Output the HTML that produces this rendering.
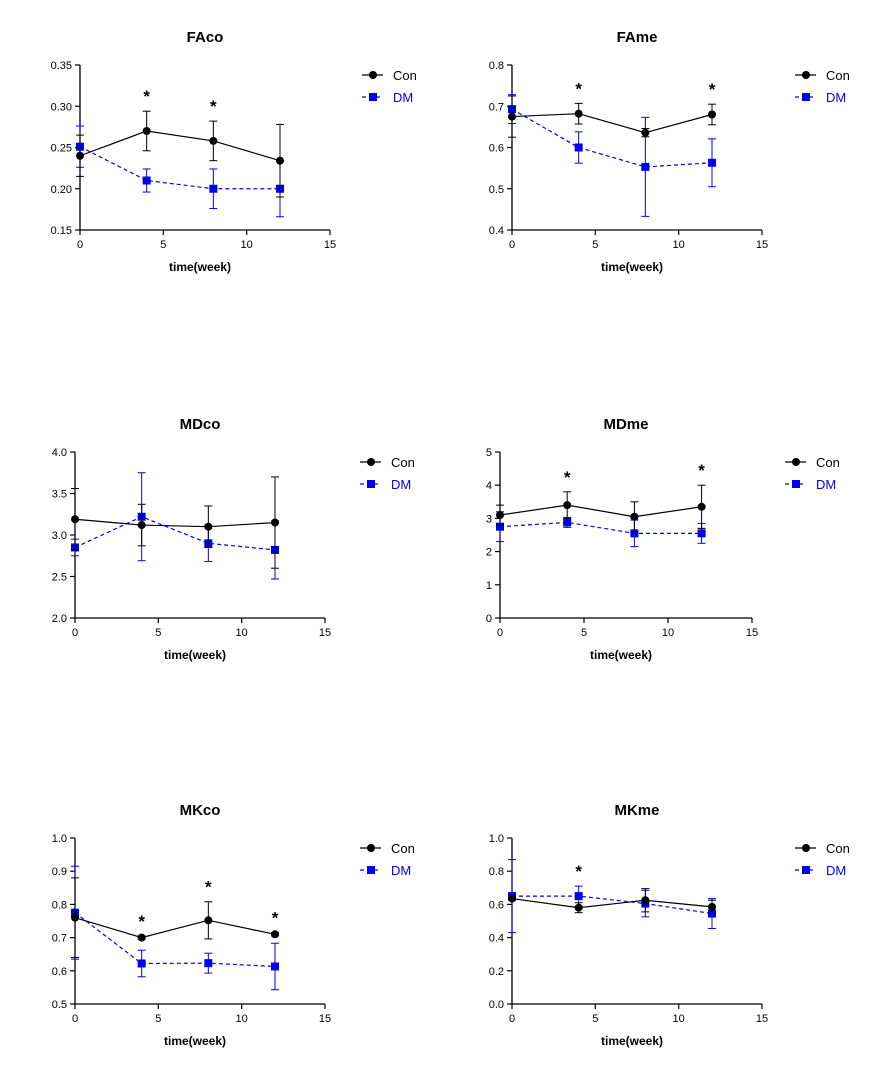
<!DOCTYPE html>
<html><head><meta charset="utf-8">
<style>
body{margin:0;background:#fff;}
svg{display:block;font-family:"Liberation Sans",Arial,sans-serif;}
</style></head>
<body>
<svg id="chart" width="882" height="1080" viewBox="0 0 882 1080"></svg>
<script>
const weeks=[0,4,8,12];
const titles=["FAco","FAme","MDco","MDme","MKco","MKme"];
const conVals=[[0.240,0.270,0.258,0.234],[0.675,0.682,0.636,0.680],[3.19,3.12,3.10,3.15],[3.10,3.40,3.05,3.35],[0.760,0.700,0.752,0.710],[0.635,0.580,0.625,0.585]];
const conErr=[[0.025,0.024,0.024,0.044],[0.05,0.025,0.01,0.025],[0.37,0.25,0.25,0.55],[0.3,0.4,0.45,0.65],[0.12,0.005,0.056,0.005],[0.01,0.03,0.07,0.04]];
const dmVals=[[0.251,0.210,0.200,0.200],[0.693,0.600,0.553,0.563],[2.85,3.22,2.90,2.82],[2.75,2.88,2.55,2.55],[0.775,0.622,0.623,0.613],[0.650,0.650,0.605,0.545]];
const dmErr=[[0.025,0.014,0.024,0.034],[0.035,0.038,0.12,0.058],[0.1,0.53,0.22,0.35],[0.45,0.15,0.4,0.3],[0.14,0.04,0.03,0.07],[0.22,0.06,0.08,0.09]];
const yMins=[0.15,0.4,2.0,0,0.5,0];
const yMaxs=[0.35,0.8,4.0,5,1.0,1.0];
const yTicks=[["0.15","0.20","0.25","0.30","0.35"],["0.4","0.5","0.6","0.7","0.8"],["2.0","2.5","3.0","3.5","4.0"],["0","1","2","3","4","5"],["0.5","0.6","0.7","0.8","0.9","1.0"],["0.0","0.2","0.4","0.6","0.8","1.0"]];
const xTicks=[0,5,10,15];
const stars=[[4,8],[4,12],[],[4,12],[4,8,12],[4]];
// layout
const L=[{x0:80,x1:330,top:65,bot:230,leg:370},{x0:512,x1:762,top:65,bot:230,leg:803},
{x0:75,x1:325,top:452,bot:618,leg:368},{x0:500,x1:752,top:452,bot:618,leg:793},
{x0:75,x1:325,top:838,bot:1004,leg:368},{x0:512,x1:762,top:838,bot:1004,leg:803}];
const NS="http://www.w3.org/2000/svg";
const svg=document.getElementById('chart');
function mk(t,a,p,txt){const e=document.createElementNS(NS,t);for(const k in a)e.setAttribute(k,a[k]);if(txt!==undefined)e.textContent=txt;(p||svg).appendChild(e);return e;}
titles.forEach((ti,i)=>{
 const l=L[i];
 const g=mk('g',{});
 
 
 const xs=v=>l.x0+(v-0)/(15-0)*(l.x1-l.x0);
 const ys=v=>l.bot-(v-yMins[i])/(yMaxs[i]-yMins[i])*(l.bot-l.top);
 const t=mk('text',{x:(l.x0+l.x1)/2,y:l.top-23,'text-anchor':'middle','font-size':15,'font-weight':'bold'},g,ti);
 
 mk('line',{x1:l.x0,y1:l.top,x2:l.x0,y2:l.bot,stroke:'#000','stroke-width':1.3},g);
 mk('line',{x1:l.x0,y1:l.bot,x2:l.x1,y2:l.bot,stroke:'#000','stroke-width':1.3},g);
 yTicks[i].forEach(s=>{const y=ys(parseFloat(s));
  mk('line',{x1:l.x0-5,y1:y,x2:l.x0,y2:y,stroke:'#000','stroke-width':1.2},g);
  const tt=mk('text',{x:l.x0-8,y:y+4,'text-anchor':'end','font-size':11},g,s);
  });
 xTicks.forEach(v=>{const x=xs(v);
  mk('line',{x1:x,y1:l.bot,x2:x,y2:l.bot+5,stroke:'#000','stroke-width':1.2},g);
  const tt=mk('text',{x:x,y:l.bot+18,'text-anchor':'middle','font-size':11},g,v);
  });
 const xl=mk('text',{x:(l.x0+l.x1)/2-5,y:l.bot+41,'text-anchor':'middle','font-size':12,'font-weight':'bold'},g,'time(week)');
 
 [[dmVals[i],dmErr[i],'#0000ee','4,3','sq'],[conVals[i],conErr[i],'#000','','ci']].forEach(([vals,err,c,dash,m])=>{
  const pts=weeks.map((w,j)=>xs(w)+','+ys(vals[j])).join(' ');
  const pl=mk('polyline',{points:pts,fill:'none',stroke:c,'stroke-width':1.2,'stroke-dasharray':dash},g);
  
  weeks.forEach((w,j)=>{const x=xs(w);const y1=ys(vals[j]+err[j]),y2=ys(vals[j]-err[j]);
   mk('line',{x1:x,y1:y1,x2:x,y2:y2,stroke:c,'stroke-width':1},g);
   mk('line',{x1:x-4,y1:y1,x2:x+4,y2:y1,stroke:c,'stroke-width':1},g);
   mk('line',{x1:x-4,y1:y2,x2:x+4,y2:y2,stroke:c,'stroke-width':1},g);
   let mm;
   if(m==='sq')mm=mk('rect',{x:x-4,y:ys(vals[j])-4,width:8,height:8,fill:c},g);
   else mm=mk('circle',{cx:x,cy:ys(vals[j]),r:4,fill:c},g);
   
  });
 });
 stars[i].forEach(w=>{const j=weeks.indexOf(w);
  const top=Math.max(conVals[i][j]+conErr[i][j],dmVals[i][j]+dmErr[i][j]);
  const s=mk('text',{x:xs(w),y:ys(top)-9,'text-anchor':'middle','font-size':17,'font-weight':'bold'},g,'*');
  });
 // legend
 const ly=l.top+10;
 const lc=mk('g',{},g);
 mk('line',{x1:l.leg-8,y1:ly,x2:l.leg+13,y2:ly,stroke:'#000','stroke-width':1.2},lc);
 mk('circle',{cx:l.leg+3,cy:ly,r:4,fill:'#000'},lc);
 mk('text',{x:l.leg+23,y:ly+5,'font-size':13},lc,'Con');
 const ld=mk('g',{},g);
 mk('line',{x1:l.leg-8,y1:ly+22,x2:l.leg+13,y2:ly+22,stroke:'#0000ee','stroke-width':1.2,'stroke-dasharray':'4,3'},ld);
 mk('rect',{x:l.leg-1,y:ly+18,width:8,height:8,fill:'#0000ee'},ld);
 mk('text',{x:l.leg+23,y:ly+27,'font-size':13,fill:'#0000ee'},ld,'DM');
});
</script>
</body></html>
